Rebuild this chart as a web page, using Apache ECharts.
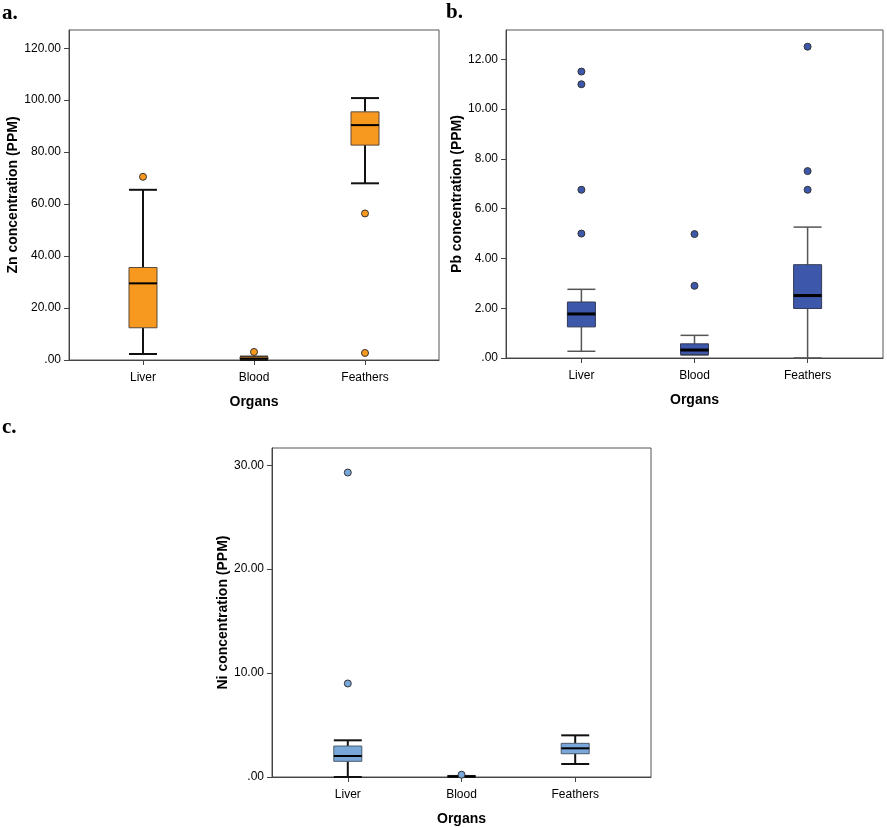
<!DOCTYPE html>
<html>
<head>
<meta charset="utf-8">
<script src="https://cdn.jsdelivr.net/npm/echarts@6/dist/echarts.min.js"></script>
<style>
html,body{margin:0;padding:0;background:#fff;}
#chart{width:887px;height:827px;}
</style>
</head>
<body>
<div id="chart"></div>
<script>
// ---------- data ----------
const categories = ['Liver', 'Blood', 'Feathers'];
const categoryIndex = [0, 1, 2];

// [index, min, Q1, median, Q3, max]
const znBoxes = [
  [0, 2.3, 12.4, 29.5, 35.6, 65.5],
  [1, 0.05, 0.2, 0.5, 1.2, 1.3],
  [2, 68.0, 82.7, 90.4, 95.5, 100.8]
];
const znOutliers = [[0, 70.5], [1, 3.1], [2, 56.4], [2, 2.7]];
const znTicks = [0, 20, 40, 60, 80, 100, 120];

const pbBoxes = [
  [0, 0.27, 1.25, 1.77, 2.25, 2.76],
  [1, 0.12, 0.14, 0.32, 0.57, 0.91],
  [2, 0.0, 1.99, 2.51, 3.75, 5.26]
];
const pbOutliers = [[0, 11.51], [0, 11.0], [0, 6.76], [0, 5.0], [1, 4.98], [1, 2.9], [2, 12.51], [2, 7.51], [2, 6.76]];
const pbTicks = [0, 2, 4, 6, 8, 10, 12];

const niBoxes = [
  [0, 0.0, 1.51, 2.02, 2.98, 3.53],
  [1, 0.0, 0.02, 0.05, 0.08, 0.1],
  [2, 1.25, 2.24, 2.76, 3.24, 4.01]
];
const niOutliers = [[0, 29.3], [0, 9.0], [1, 0.22]];
const niTicks = [0, 10, 20, 30];

// ---------- chart ----------
const FONT = 'Liberation Sans, Arial, sans-serif';
const chart = echarts.init(document.getElementById('chart'), null, {renderer: 'canvas'});

function fmtY(v) {
  if (v === 0) return '.00';
  return v.toFixed(2);
}

function makeRender(st) {
  return function (params, api) {
    const x = api.value(0);
    const p = [1, 2, 3, 4, 5].map(i => api.coord([x, api.value(i)]));
    const cx = p[0][0];
    const hw = st.boxW / 2;
    const yMin = p[0][1], yQ1 = p[1][1], yMed = p[2][1], yQ3 = p[3][1], yMax = p[4][1];
    const ws = {stroke: st.whisker, lineWidth: st.whiskerW};
    return {
      type: 'group',
      children: [
        {type: 'line', shape: {x1: cx, y1: yQ3, x2: cx, y2: yMax}, style: ws},
        {type: 'line', shape: {x1: cx, y1: yQ1, x2: cx, y2: yMin}, style: ws},
        {type: 'line', shape: {x1: cx - hw, y1: yMax, x2: cx + hw, y2: yMax}, style: ws},
        {type: 'line', shape: {x1: cx - hw, y1: yMin, x2: cx + hw, y2: yMin}, style: ws},
        {type: 'rect', shape: {x: cx - hw, y: yQ3, width: 2 * hw, height: yQ1 - yQ3},
          style: {fill: st.fill, stroke: st.border, lineWidth: 1}},
        {type: 'line', shape: {x1: cx - hw, y1: yMed, x2: cx + hw, y2: yMed},
          style: {stroke: '#000', lineWidth: st.medW}}
      ]
    };
  };
}

function xAxisDef(gi) {
  return {
    type: 'value', gridIndex: gi, min: -2 / 3, max: 8 / 3,
    name: 'Organs', nameLocation: 'middle', nameGap: 35,
    nameTextStyle: {fontFamily: FONT, fontWeight: 'bold', fontSize: 14, color: '#000'},
    axisLine: {show: true, onZero: false, lineStyle: {color: '#444', width: 1}},
    axisTick: {show: true, length: 5, customValues: categoryIndex, lineStyle: {color: '#444'}},
    axisLabel: {customValues: categoryIndex, formatter: v => categories[Math.round(v)] || '',
      fontFamily: FONT, fontSize: 12, color: '#000', margin: 12},
    splitLine: {show: false}
  };
}

function yAxisDef(gi, max, ticks, name, gap) {
  return {
    type: 'value', gridIndex: gi, min: 0, max: max,
    name: name, nameLocation: 'middle', nameGap: gap, nameRotate: 90,
    nameTextStyle: {fontFamily: FONT, fontWeight: 'bold', fontSize: 14, color: '#000'},
    axisLine: {show: true, onZero: false, lineStyle: {color: '#444', width: 1}},
    axisTick: {show: true, length: 5, customValues: ticks, lineStyle: {color: '#444'}},
    axisLabel: {customValues: ticks, formatter: fmtY, fontFamily: FONT, fontSize: 12, color: '#000', margin: 8},
    splitLine: {show: false}
  };
}

const styles = {
  zn: {fill: '#F7991F', border: '#5a4a3a', whisker: '#111', whiskerW: 2, medW: 2, boxW: 28},
  pb: {fill: '#3D58AB', border: '#333a55', whisker: '#555', whiskerW: 1.5, medW: 3, boxW: 28},
  ni: {fill: '#79A7D9', border: '#4a5a6a', whisker: '#111', whiskerW: 2, medW: 2, boxW: 28}
};

function outlierSeries(gi, data, color) {
  return {
    type: 'scatter', xAxisIndex: gi, yAxisIndex: gi, data: data,
    symbol: 'circle', symbolSize: 7, z: 5,
    itemStyle: {color: color, borderColor: '#333', borderWidth: 1, opacity: 1}
  };
}

function boxSeries(gi, data, st) {
  return {
    type: 'custom', xAxisIndex: gi, yAxisIndex: gi, data: data,
    renderItem: makeRender(st), encode: {x: 0, y: [1, 2, 3, 4, 5]}, z: 3
  };
}

const gridCommon = {show: true, borderColor: '#555', borderWidth: 1, backgroundColor: 'transparent', containLabel: false};

chart.setOption({
  animation: false,
  backgroundColor: '#fff',
  grid: [
    Object.assign({left: 69, top: 30, width: 370, height: 330}, gridCommon),
    Object.assign({left: 506, top: 30, width: 377, height: 328}, gridCommon),
    Object.assign({left: 272, top: 448, width: 379, height: 329}, gridCommon)
  ],
  xAxis: [xAxisDef(0), xAxisDef(1), xAxisDef(2)],
  yAxis: [
    yAxisDef(0, 127, znTicks, 'Zn concentration (PPM)', 46),
    yAxisDef(1, 13.18, pbTicks, 'Pb concentration (PPM)', 40),
    yAxisDef(2, 31.66, niTicks, 'Ni concentration (PPM)', 40)
  ],
  series: [
    boxSeries(0, znBoxes, styles.zn),
    outlierSeries(0, znOutliers, '#F7991F'),
    boxSeries(1, pbBoxes, styles.pb),
    outlierSeries(1, pbOutliers, '#3D58AB'),
    boxSeries(2, niBoxes, styles.ni),
    outlierSeries(2, niOutliers, '#79A7D9')
  ],
  graphic: [
    {type: 'text', left: 2, top: 3, style: {text: 'a.', font: 'bold 21px "Liberation Serif", "Times New Roman", serif', fill: '#000'}},
    {type: 'text', left: 446, top: 2, style: {text: 'b.', font: 'bold 21px "Liberation Serif", "Times New Roman", serif', fill: '#000'}},
    {type: 'text', left: 2, top: 417, style: {text: 'c.', font: 'bold 21px "Liberation Serif", "Times New Roman", serif', fill: '#000'}}
  ]
});
</script>
</body>
</html>
